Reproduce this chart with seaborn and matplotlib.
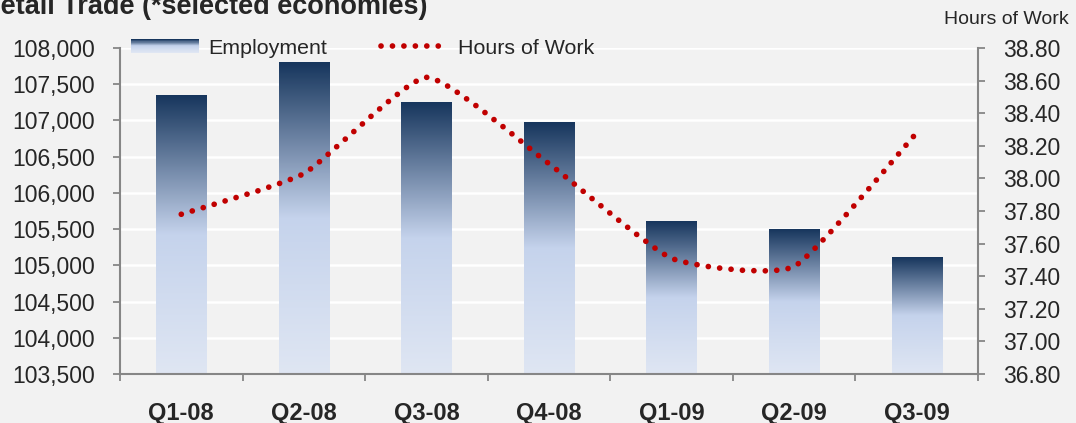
import numpy as np
import pandas as pd
import matplotlib
matplotlib.use("Agg")
import matplotlib.pyplot as plt
import seaborn as sns
from matplotlib.colors import LinearSegmentedColormap
from matplotlib.patches import Rectangle, PathPatch
from matplotlib.path import Path
from matplotlib.lines import Line2D
from matplotlib.legend_handler import HandlerBase
from matplotlib.ticker import FuncFormatter

quarters = ["Q1-08", "Q2-08", "Q3-08", "Q4-08", "Q1-09", "Q2-09", "Q3-09"]
employment = [107350, 107805, 107245, 106965, 105610, 105490, 105115]
hours_of_work = [37.78, 38.03, 38.62, 38.09, 37.51, 37.46, 38.28]

emp_ticks = [103500, 104000, 104500, 105000, 105500, 106000, 106500, 107000, 107500, 108000]
hours_ticks = [36.8, 37.0, 37.2, 37.4, 37.6, 37.8, 38.0, 38.2, 38.4, 38.6, 38.8]

sns.set_theme(style="white")
plt.rcParams["font.family"] = ["Liberation Sans", "DejaVu Sans"]

bg = "#f2f2f2"
axis_grey = "#868686"
red = "#c00000"
grad = LinearSegmentedColormap.from_list(
    "emp", [(0, "#dfe6f3"), (0.5, "#c5d3ec"), (1, "#17365d")]
)
dot_lw = 4.1
dots = (0, (0.01, 2.0))

fig = plt.figure(figsize=(10.76, 4.23), dpi=100, facecolor=bg)
ax = fig.add_axes([120 / 1076, 1 - 374 / 423, 858 / 1076, 326 / 423])
ax.set_facecolor(bg)

df = pd.DataFrame({"quarter": quarters, "employment": employment})
sns.barplot(data=df, x="quarter", y="employment", ax=ax, width=0.41,
            color="#17365d", saturation=1, zorder=2)

# gradient fill, per bar
ymin = emp_ticks[0]
for bar in ax.patches:
    x0 = bar.get_x()
    w = bar.get_width()
    top = bar.get_y() + bar.get_height()
    ax.imshow(np.linspace(1, 0, 256).reshape(-1, 1), cmap=grad, vmin=0, vmax=1,
              aspect="auto", extent=(x0, x0 + w, ymin, top), zorder=2.5)
    bar.set_facecolor("none")
    bar.set_edgecolor("none")

ax.set_xlim(-0.5, len(quarters) - 0.5)
ax.set_ylim(emp_ticks[0], emp_ticks[-1])
ax.set_xlabel("")
ax.set_ylabel("")
ax.set_axisbelow(True)
ax.yaxis.grid(True, color="white", lw=1.8)
ax.set_yticks(emp_ticks)
ax.yaxis.set_major_formatter(FuncFormatter(lambda v, p: f"{v:,.0f}"))
ax.set_xticks(range(len(quarters)))
ax.set_xticklabels(quarters, fontweight="bold")
ax.set_xticks(np.arange(len(quarters) + 1) - 0.5, minor=True)
ax.tick_params(axis="x", which="major", length=0, pad=20, labelsize=17)
ax.tick_params(axis="x", which="minor", direction="out", length=5, width=1.3,
               color=axis_grey, bottom=True)
ax.tick_params(axis="y", direction="out", length=5, width=1.3, color=axis_grey,
               pad=13, labelsize=16.5, left=True)
for s in ["top", "right"]:
    ax.spines[s].set_visible(False)
for s in ["left", "bottom"]:
    ax.spines[s].set_color(axis_grey)
    ax.spines[s].set_linewidth(1.5)

# hours of work, smoothed line on the right axis (low tension, like the original)
ax2 = ax.twinx()
ax2.set_ylim(hours_ticks[0], hours_ticks[-1])
pts = np.column_stack([np.arange(len(quarters)), hours_of_work])
tension = 1 / 12
verts = [pts[0]]
codes = [Path.MOVETO]
for i in range(len(pts) - 1):
    p0 = pts[max(i - 1, 0)]
    p1 = pts[i]
    p2 = pts[i + 1]
    p3 = pts[min(i + 2, len(pts) - 1)]
    verts += [p1 + (p2 - p0) * tension, p2 - (p3 - p1) * tension, p2]
    codes += [Path.CURVE4] * 3
curve = PathPatch(Path(verts, codes), fill=False, edgecolor=red, lw=dot_lw,
                  linestyle=dots, capstyle="round", zorder=3)
ax2.add_patch(curve)
ax2.set_yticks(hours_ticks)
ax2.yaxis.set_major_formatter(FuncFormatter(lambda v, p: f"{v:.2f}"))
ax2.tick_params(axis="y", direction="out", length=5, width=1.3, color=axis_grey,
                pad=13, labelsize=16.5, right=True)
ax2.grid(False)
for s in ["top", "left", "bottom"]:
    ax2.spines[s].set_visible(False)
ax2.spines["right"].set_color(axis_grey)
ax2.spines["right"].set_linewidth(1.5)


class GradientHandler(HandlerBase):
    def create_artists(self, legend, orig_handle, xdescent, ydescent,
                       width, height, fontsize, trans):
        n = 24
        arts = []
        for i in range(n):
            arts.append(Rectangle((-xdescent, -ydescent + height * i / n), width,
                                  height / n * 1.05, facecolor=grad(i / (n - 1)),
                                  edgecolor="none", transform=trans))
        return arts


emp_proxy = Rectangle((0, 0), 1, 1)
hours_proxy = Line2D([], [], color=red, lw=dot_lw, linestyle=dots,
                     dash_capstyle="round")
ax2.legend([emp_proxy, hours_proxy], ["Employment", "Hours of Work"],
           handler_map={emp_proxy: GradientHandler()},
           loc="center left", bbox_to_anchor=(0.0128, 1.0), ncol=2,
           frameon=False, fontsize=15.4, handlelength=3.2, handleheight=0.6,
           handletextpad=0.42, columnspacing=2.5, borderaxespad=0, borderpad=0)

fig.text(-19 / 1076, 1 - 14 / 423, "Retail Trade (*selected economies)",
         fontsize=19.5, fontweight="bold", ha="left", va="baseline")
fig.text(1069 / 1076, 1 - 24 / 423, "Hours of Work", fontsize=14,
         ha="right", va="baseline")

fig.savefig("out.png", dpi=100, facecolor=bg)
